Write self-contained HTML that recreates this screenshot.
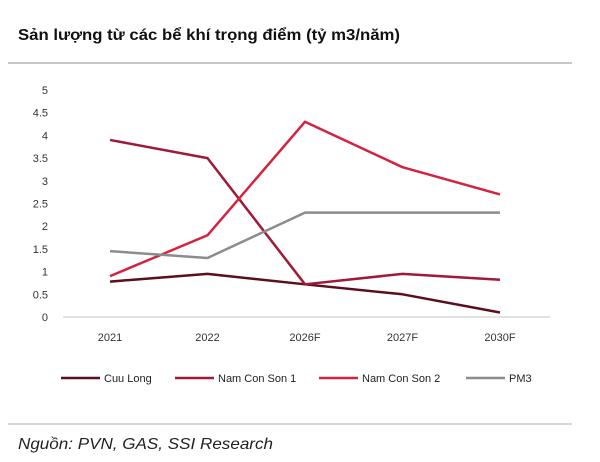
<!DOCTYPE html>
<html><head><meta charset="utf-8"><style>
body{margin:0;background:#fff;font-family:"Liberation Sans",sans-serif}
svg{display:block}
</style></head><body>
<svg width="600" height="462" viewBox="0 0 600 462">
<text x="18" y="40" font-size="16" font-weight="bold" fill="#111" textLength="382" lengthAdjust="spacingAndGlyphs">Sản lượng từ các bể khí trọng điểm (tỷ m3/năm)</text>
<line x1="8" y1="63" x2="572" y2="63" stroke="#c8c8c8" stroke-width="2"/>
<g id="yaxis"></g>
<g id="xaxis"></g>
<line x1="63" y1="317" x2="550" y2="317" stroke="#d9d9d9" stroke-width="1.5"/>
<g id="series"></g>
<g id="legend"></g>
<line x1="8" y1="424" x2="572" y2="424" stroke="#c8c8c8" stroke-width="1.5"/>
<text x="18" y="449" font-size="16" font-style="italic" fill="#222" textLength="255" lengthAdjust="spacingAndGlyphs">Nguồn: PVN, GAS, SSI Research</text>
</svg>
<script>
const categories=["2021","2022","2026F","2027F","2030F"];
const yTicks=[0,0.5,1,1.5,2,2.5,3,3.5,4,4.5,5];
const seriesNames=["Cuu Long","Nam Con Son 1","Nam Con Son 2","PM3"];
const cuuLong=[0.78,0.95,0.72,0.5,0.1];
const namConSon1=[3.9,3.5,0.72,0.95,0.82];
const namConSon2=[0.9,1.8,4.3,3.3,2.7];
const pm3=[1.45,1.3,2.3,2.3,2.3];
const colors=["#5a0e1e","#9e1a38","#d42340","#8c8c8c"];
const NS="http://www.w3.org/2000/svg";
const X=i=>110+i*97.5;
const Y=v=>317-v*45.4;
function mk(t,a,p){const e=document.createElementNS(NS,t);for(const k in a)e.setAttribute(k,a[k]);p.appendChild(e);return e;}
const ya=document.getElementById('yaxis');
yTicks.forEach(v=>{const t=mk('text',{x:48,y:Y(v)+4,'font-size':11,fill:'#333','text-anchor':'end'},ya);


t.textContent=String(v);});
const xa=document.getElementById('xaxis');
categories.forEach((c,i)=>{const t=mk('text',{x:X(i),y:341,'font-size':11,fill:'#333','text-anchor':'middle'},xa);


t.textContent=c;});
const sg=document.getElementById('series');
[cuuLong,namConSon1,namConSon2,pm3].forEach((d,s)=>{
const p=mk('polyline',{points:d.map((v,i)=>X(i)+','+Y(v)).join(' '),fill:'none',stroke:colors[s],'stroke-width':2.5,'stroke-linejoin':'round'},sg);

});
const lg=document.getElementById('legend');
const lx=[61,175,319,466];
seriesNames.forEach((n,s)=>{const g=mk('g',{},lg);


mk('line',{x1:lx[s],y1:378,x2:lx[s]+39,y2:378,stroke:colors[s],'stroke-width':2.5},g);
const t=mk('text',{x:lx[s]+43,y:382,'font-size':11,fill:'#222'},g);t.textContent=n;});
</script>
</body></html>
